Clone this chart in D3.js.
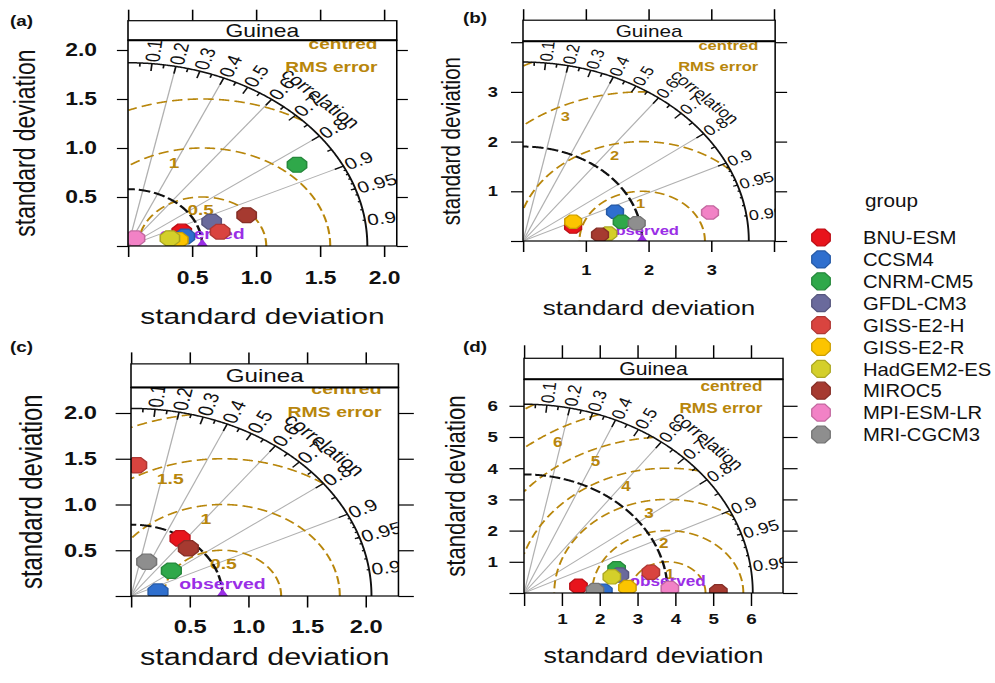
<!DOCTYPE html>
<html>
<head>
<meta charset="utf-8">
<script src="https://cdn.jsdelivr.net/npm/d3@7"></script>
<style>
  body { margin: 0; background: #fff; font-family: "Liberation Sans", Arial, sans-serif; }
</style>
</head>
<body>
<div id="chart"></div>
<script>
// models (legend order = drawing order)
const models = ["BNU-ESM", "CCSM4", "CNRM-CM5", "GFDL-CM3", "GISS-E2-H",
                "GISS-E2-R", "HadGEM2-ES", "MIROC5", "MPI-ESM-LR", "MRI-CGCM3"];
const modelColors = ["#e8141c", "#2f6fce", "#2fa84a", "#6a6a9c", "#d9443f",
                     "#fcc400", "#d4cf2a", "#a63a30", "#f282c6", "#8e8e8e"];

const panelNames = ["(a)", "(b)", "(c)", "(d)"];
const stripLabel = "Guinea";

// observed standard deviation, outer sd arc, axis limit per panel
const obsSd = [0.58, 1.9, 0.78, 3.8];
const maxSd = [1.87, 3.6, 2.05, 6.05];
const axisMax = [2.1, 4.02, 2.28, 6.85];

// model standard deviation and correlation (null = not visible)
const sdA  = [0.445, 0.455, 1.559, 0.699, 0.734, 0.398, 0.337, 0.979, 0.096, null];
const corA = [0.944, 0.977, 0.847, 0.935, 0.980, 0.988, 0.972, 0.947, 0.570, null];
const sdB  = [0.85, 1.581, 1.621, null, null, 0.89, 1.369, 1.234, 3.036, 1.848];
const corB = [0.940, 0.928, 0.971, null, null, 0.899, 0.994, 0.995, 0.982, 0.981];
const sdC  = [0.756, 0.235, 0.441, null, 1.43, null, null, 0.715, null, 0.398];
const corC = [0.553, 0.979, 0.780, null, 0.034, null, null, 0.684, null, 0.336];
const sdD  = [1.457, 2.10, 2.57, 2.60, 3.42, 2.74, 2.38, 5.14, 3.86, 1.88];
const corD = [0.989, 0.9996, 0.953, 0.975, 0.981, 0.998, 0.976, 0.99997, 0.9993, 0.9991];

// axis ticks and labels
const ticksA = [0, 0.5, 1, 1.5, 2];
const tickLabelsA = ["", "0.5", "1.0", "1.5", "2.0"];
const ticksB = [0, 1, 2, 3, 4];
const tickLabelsB = ["", "1", "2", "3", ""];
const ticksC = [0, 0.5, 1, 1.5, 2];
const tickLabelsC = ["", "0.5", "1.0", "1.5", "2.0"];
const ticksD = [0, 1, 2, 3, 4, 5, 6];
const tickLabelsD = ["", "1", "2", "3", "4", "5", "6"];

// centred RMS error contour levels
const rmsA = [0, 0.5, 1, 1.5, 2];
const rmsB = [0, 1, 2, 3, 4];
const rmsC = [0, 0.5, 1, 1.5, 2, 2.5];
const rmsD = [0, 1, 2, 3, 4, 5, 6, 7];

const corrLabels = [0.1, 0.2, 0.3, 0.4, 0.5, 0.6, 0.7, 0.8, 0.9, 0.95, 0.99];
const corrLines = [0.2, 0.4, 0.6, 0.8, 0.9];

const panels = [
  {sd: sdA, cor: corA, ticks: ticksA, labels: tickLabelsA, rms: rmsA},
  {sd: sdB, cor: corB, ticks: ticksB, labels: tickLabelsB, rms: rmsB},
  {sd: sdC, cor: corC, ticks: ticksC, labels: tickLabelsC, rms: rmsC},
  {sd: sdD, cor: corD, ticks: ticksD, labels: tickLabelsD, rms: rmsD}
];

// panel placement (the picture is stretched horizontally by sx)
const layout = [
  {x0:128, y0:246, ppu:98,   sx:1.306, strip:19.5, k:1.0,  tickFs:17.5, stripFs:17.5, tickV:11,   tickH:8.5, labX:23.7, labY:26, titleDx:103, titleDy:78, lx:10,  ly:26},
  {x0:523, y0:241, ppu:49.7, sx:1.262, strip:21,   k:0.9,  tickFs:14.5, stripFs:16.4, tickV:11,   tickH:9.5, labX:19.8, labY:24, titleDx:72,  titleDy:74, lx:463, ly:23},
  {x0:131, y0:596, ppu:91.5, sx:1.282, strip:23.5, k:1.04, tickFs:18.5, stripFs:18.9, tickV:11.5, tickH:12,  labX:26.5, labY:24, titleDx:100, titleDy:69, lx:10,  ly:352},
  {x0:524, y0:593, ppu:31.2, sx:1.212, strip:21,   k:0.97, tickFs:15.5, stripFs:17.5, tickV:13,   tickH:12,  labX:21.5, labY:20, titleDx:68,  titleDy:70, lx:463, ly:352}
];

const rmsCol = "#b8860b";
const obsCol = "#9a2ee6";

const svg = d3.select("#chart").append("svg")
  .attr("width", 995)
  .attr("height", 683)
  .style("font-family", "'Liberation Sans', Arial, sans-serif");

const octagon = r => d3.line().curve(d3.curveLinearClosed)(
  d3.range(8).map(i => {
    const a = Math.PI / 8 + i * Math.PI / 4;
    return [r * Math.cos(a), r * Math.sin(a)];
  }));

panels.forEach((p, i) => {
  const L = layout[i];
  const m = maxSd[i], obs = obsSd[i], amax = axisMax[i], k = L.k;
  const H = amax * L.ppu, W = H;

  const g = svg.append("g")
    .attr("transform", `translate(${L.x0},${L.y0 - H}) scale(${L.sx},1)`);

  const x = d3.scaleLinear().domain([0, amax]).range([0, W]);
  const y = d3.scaleLinear().domain([0, amax]).range([H, 0]);
  const line = d3.line().x(d => x(d[0])).y(d => y(d[1]));
  const polar = (r, t) => [r * Math.cos(t), r * Math.sin(t)];

  // axes
  const styleAxis = sel => {
    sel.select(".domain").remove();
    sel.attr("font-family", null).attr("font-size", null);
    sel.selectAll("line").attr("stroke", "#000").attr("stroke-width", 1.2);
    sel.selectAll("text").attr("font-size", L.tickFs).attr("font-weight", "bold").attr("fill", "#111");
  };
  g.append("g").attr("transform", `translate(0,${H})`)
    .call(d3.axisBottom(x).tickValues(p.ticks).tickFormat((d, j) => p.labels[j])
      .tickSize(L.tickV).tickPadding(L.labY - L.tickV))
    .call(styleAxis);
  g.append("g")
    .call(d3.axisLeft(y).tickValues(p.ticks).tickFormat((d, j) => p.labels[j])
      .tickSize(L.tickH).tickPadding(L.labX - L.tickH))
    .call(styleAxis);
  g.append("g").attr("transform", `translate(0,${-L.strip})`)
    .call(d3.axisTop(x).tickValues(p.ticks).tickFormat("").tickSize(L.tickV))
    .call(styleAxis);
  g.append("g").attr("transform", `translate(${W},0)`)
    .call(d3.axisRight(y).tickValues(p.ticks).tickFormat("").tickSize(L.tickH))
    .call(styleAxis);

  // clipped plot area
  g.append("clipPath").attr("id", "clip" + i)
    .append("rect").attr("width", W).attr("height", H);
  const c = g.append("g").attr("clip-path", `url(#clip${i})`);

  // correlation grid lines
  c.selectAll(".grid").data(corrLines).join("path")
    .attr("d", r => line([[0, 0], polar(m, Math.acos(r))]))
    .attr("stroke", "#b0b0b0").attr("stroke-width", 1).attr("fill", "none");

  // centred RMS error arcs and their labels
  const n = p.rms.length;
  p.rms.forEach((gm, j) => {
    if (gm === 0) return;
    const arc = d3.range(0, 1441).map(a => a * Math.PI / 1440)
      .map(t => [obs + gm * Math.cos(t), gm * Math.sin(t)])
      .filter(q => q[0] >= 0 && q[0] * q[0] + q[1] * q[1] <= m * m);
    if (arc.length < 2) return;
    c.append("path").attr("d", line(arc))
      .attr("fill", "none").attr("stroke", rmsCol)
      .attr("stroke-width", 1.6).attr("stroke-dasharray", "8,4");
    const lp = 45 + j * 25 / (n - 1);
    const t = (lp - 1) / 99 * Math.PI;
    const q = [obs + gm * Math.cos(t), gm * Math.sin(t)];
    if (q[0] < 0 || q[0] * q[0] + q[1] * q[1] > m * m) return;
    c.append("text")
      .attr("x", x(q[0])).attr("y", y(q[1]) + 13 * k).attr("dy", "0.35em")
      .attr("text-anchor", "middle").attr("font-size", 14.5 * k)
      .attr("font-weight", "bold").attr("fill", rmsCol)
      .text(gm);
  });

  // observed standard deviation arc
  c.append("path")
    .attr("d", line(d3.range(0, 361).map(a => polar(obs, a * Math.PI / 720))))
    .attr("fill", "none").attr("stroke", "#111").attr("stroke-width", 2)
    .attr("stroke-dasharray", "9,3");

  // outer arc with correlation ticks
  c.append("path")
    .attr("d", line(d3.range(0, 361).map(a => polar(m, a * Math.PI / 720))))
    .attr("fill", "none").attr("stroke", "#111").attr("stroke-width", 1.5);
  const tickSet = [
    {vals: d3.range(1, 10).map(v => v / 10), len: 0.04},
    {vals: d3.range(0, 10).map(v => 0.05 + v / 10), len: 0.02},
    {vals: d3.range(91, 100).map(v => v / 100), len: 0.01}
  ];
  tickSet.forEach(ts => {
    c.selectAll(null).data(ts.vals).join("path")
      .attr("d", r => line([polar(m, Math.acos(r)), polar(m * (1 - ts.len), Math.acos(r))]))
      .attr("stroke", "#111").attr("stroke-width", 1.3);
  });

  // correlation labels
  c.selectAll(".clab").data(corrLabels).join("text")
    .attr("transform", r => {
      const q = polar(m * 1.01, Math.acos(r));
      return `translate(${x(q[0])},${y(q[1])}) rotate(${-Math.acos(r) * 180 / Math.PI})`;
    })
    .attr("dy", "0.35em").attr("font-size", 16 * k).attr("fill", "#111")
    .text(r => r);

  const cq = polar(m * 1.14, Math.PI / 4);
  c.append("text")
    .attr("transform", `translate(${x(cq[0])},${y(cq[1])}) rotate(45)`)
    .attr("dy", "0.35em").attr("text-anchor", "middle")
    .attr("font-size", 16.5 * k).attr("fill", "#111")
    .text("correlation");

  // centred RMS error title
  c.append("text")
    .attr("x", x(m * 1.042)).attr("y", y(m * 0.952) - 23 * k)
    .attr("text-anchor", "end").attr("font-size", 14.6 * k)
    .attr("font-weight", "bold").attr("fill", rmsCol)
    .text("centred");
  c.append("text")
    .attr("x", x(m * 1.042)).attr("y", y(m * 0.952))
    .attr("text-anchor", "end").attr("font-size", 14.6 * k)
    .attr("font-weight", "bold").attr("fill", rmsCol)
    .text("RMS error");

  // observed point
  c.append("path")
    .attr("d", d3.symbol(d3.symbolTriangle, 70 * k)())
    .attr("transform", `translate(${x(obs)},${y(0)})`)
    .attr("fill", obsCol);
  c.append("text")
    .attr("x", x(obs)).attr("y", y(0) - 7 * k)
    .attr("text-anchor", "middle").attr("font-size", 14.6 * k)
    .attr("font-weight", "bold").attr("fill", obsCol)
    .text("observed");

  // model points
  const pts = models.map((name, j) => ({name, col: modelColors[j], sd: p.sd[j], cor: p.cor[j]}))
    .filter(d => d.sd != null);
  c.selectAll(".pt").data(pts).join("path")
    .attr("d", octagon(8 * k))
    .attr("transform", d => `translate(${x(d.sd * d.cor)},${y(d.sd * Math.sqrt(1 - d.cor * d.cor))})`)
    .attr("fill", d => d.col)
    .attr("stroke", d => d3.color(d.col).darker(0.6))
    .attr("stroke-width", 1.2);

  // frame and strip
  g.append("rect").attr("width", W).attr("height", H)
    .attr("fill", "none").attr("stroke", "#000").attr("stroke-width", 1.2);
  g.append("rect").attr("y", -L.strip).attr("width", W).attr("height", L.strip)
    .attr("fill", "#fff").attr("stroke", "#000").attr("stroke-width", 1.2);
  g.append("line").attr("x1", 0).attr("x2", W).attr("y1", 0).attr("y2", 0)
    .attr("stroke", "#000").attr("stroke-width", 2);
  g.append("text")
    .attr("x", W / 2).attr("y", -L.strip / 2 + L.stripFs * 0.36)
    .attr("text-anchor", "middle").attr("font-size", L.stripFs).attr("fill", "#111")
    .text(stripLabel);

  // axis titles
  g.append("text")
    .attr("x", W / 2).attr("y", H + L.titleDy)
    .attr("text-anchor", "middle").attr("font-size", 22.9 * k).attr("fill", "#111")
    .text("standard deviation");
  g.append("text")
    .attr("transform", `translate(${-L.titleDx / L.sx},${H / 2}) rotate(-90)`)
    .attr("dy", "0.35em").attr("text-anchor", "middle")
    .attr("font-size", 22.9 * k).attr("fill", "#111")
    .text("standard deviation");

  // panel letter
  svg.append("text")
    .attr("transform", `translate(${L.lx},${L.ly}) scale(1.3,1)`)
    .attr("font-size", 14.5).attr("font-weight", "bold").attr("fill", "#111")
    .text(panelNames[i]);
});

// legend
const legY = d3.scalePoint().domain(models).range([237.5, 434.5]);
svg.append("text")
  .attr("transform", "translate(865,207) scale(1.09,1)")
  .attr("font-size", 19).attr("fill", "#111")
  .text("group");
const items = svg.selectAll(".leg").data(models).join("g")
  .attr("transform", d => `translate(821,${legY(d)}) scale(1.09,1)`);
items.append("path")
  .attr("d", octagon(9.2))
  .attr("fill", (d, j) => modelColors[j])
  .attr("stroke", (d, j) => d3.color(modelColors[j]).darker(0.6))
  .attr("stroke-width", 1.2);
items.append("text")
  .attr("x", 38.5).attr("dy", "0.36em")
  .attr("font-size", 18.6).attr("fill", "#111")
  .text(d => d);
</script>
</body>
</html>
